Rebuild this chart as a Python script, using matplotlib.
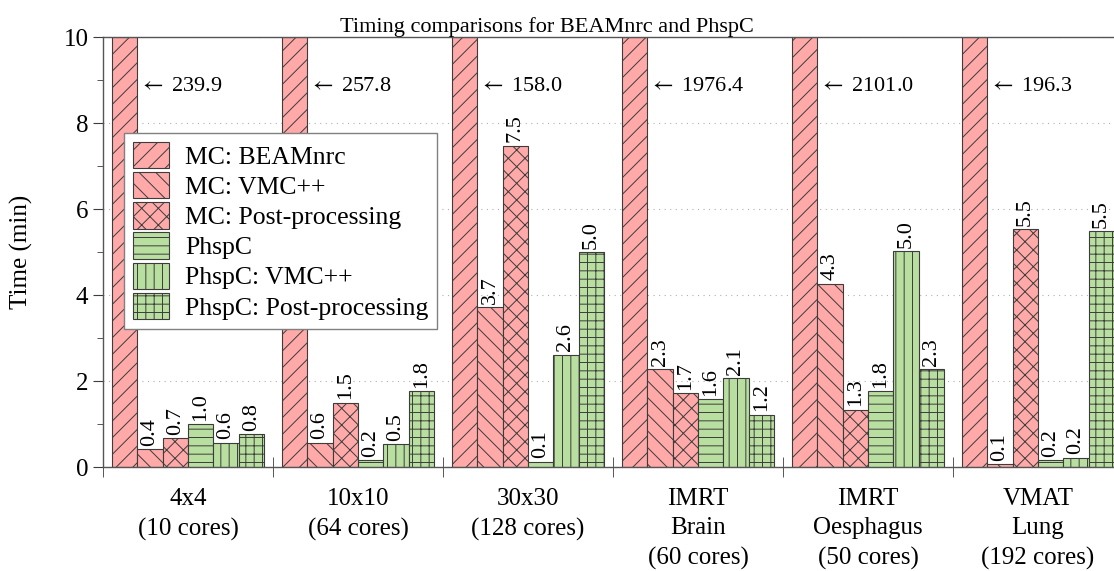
import matplotlib
matplotlib.use("Agg")
import matplotlib.pyplot as plt
import numpy as np

plt.rcParams['font.family'] = ['Liberation Serif', 'DejaVu Serif']
plt.rcParams['hatch.linewidth'] = 0.7
plt.rcParams['mathtext.fontset'] = 'stix'

# data (minutes)
groups = ['4x4\n(10 cores)', '10x10\n(64 cores)', '30x30\n(128 cores)',
          'IMRT\nBrain\n(60 cores)', 'IMRT\nOesphagus\n(50 cores)', 'VMAT\nLung\n(192 cores)']
series = ['MC: BEAMnrc', 'MC: VMC++', 'MC: Post-processing',
          'PhspC', 'PhspC: VMC++', 'PhspC: Post-processing']
beamnrc = [239.9, 257.8, 158.0, 1976.4, 2101.0, 196.3]
mc_vmc = [0.42, 0.56, 3.72, 2.28, 4.26, 0.07]
mc_post = [0.67, 1.49, 7.47, 1.72, 1.33, 5.53]
phspc = [0.99, 0.16, 0.12, 1.58, 1.76, 0.16]
phspc_vmc = [0.56, 0.53, 2.61, 2.06, 5.02, 0.22]
phspc_post = [0.76, 1.76, 5.0, 1.22, 2.28, 5.48]

red = '#ffa9a9'
green = '#b9dfa0'
edge = '#3c3c3c'
colors = [red, red, red, green, green, green]
hatches = ['//', '\\\\', 'xx', '--', '||', '++']
values = [beamnrc, mc_vmc, mc_post, phspc, phspc_vmc, phspc_post]
ymax = 10

fig = plt.figure(figsize=(11.14, 5.71), dpi=100)
ax = fig.add_axes([103 / 1114, 1 - 467 / 571, 1020 / 1114, 430 / 571])

x = np.arange(len(groups))
w = 0.149
for k, (name, vals) in enumerate(zip(series, values)):
    pos = x + (k - 2.5) * w
    heights = np.minimum(vals, ymax)
    ax.bar(pos, heights, width=w, color=colors[k], hatch=hatches[k],
           edgecolor=edge, linewidth=0.8, label=name, zorder=2)
    for p, v in zip(pos, vals):
        if v > ymax:
            ax.text(p + w / 2 + 0.012, 8.86, '$\\leftarrow$ %.1f' % v, fontsize=16,
                    ha='left', va='center', zorder=3)
        else:
            ax.text(p, v + 0.08, '%.1f' % v, fontsize=16, rotation=90,
                    ha='center', va='bottom', zorder=3)

ax.set_xlim(-0.5, 5.5)
ax.set_ylim(0, ymax)
ax.set_xticks(x)
ax.set_xticklabels(groups, fontsize=18, linespacing=1.44)
ax.set_xticks(np.arange(-0.5, 6, 1), minor=True)
ax.tick_params(axis='x', which='major', length=0, pad=15)
ax.tick_params(axis='x', which='minor', direction='inout', length=14, color=edge)
ax.set_yticks(np.arange(0, 11, 2))
ax.set_yticks(np.arange(1, 10, 2), minor=True)
ax.tick_params(axis='y', which='major', direction='out', length=7, labelsize=18, color=edge)
ax.tick_params(axis='y', which='minor', direction='out', length=4, color=edge)
ax.yaxis.grid(True, linestyle=(0, (1, 4)), color='#b0b0b0', linewidth=0.8)
ax.set_axisbelow(True)
for s in ax.spines.values():
    s.set_color('#555555')
    s.set_linewidth(1.0)

ax.set_ylabel('Time (min)', fontsize=18, labelpad=22)
ax.set_title('Timing comparisons for BEAMnrc and PhspC', fontsize=16, pad=3,
             x=0.5 - 66 / 1020)

leg = ax.legend(loc='upper left', bbox_to_anchor=(0.021, 0.777), fontsize=18.5,
                fancybox=False, edgecolor='#808080', framealpha=1,
                handlelength=1.4, handleheight=1.2, labelspacing=0.13,
                handletextpad=0.6, borderpad=0.35, borderaxespad=0)
leg.get_frame().set_linewidth(1.0)

fig.savefig('out.png', dpi=100)
